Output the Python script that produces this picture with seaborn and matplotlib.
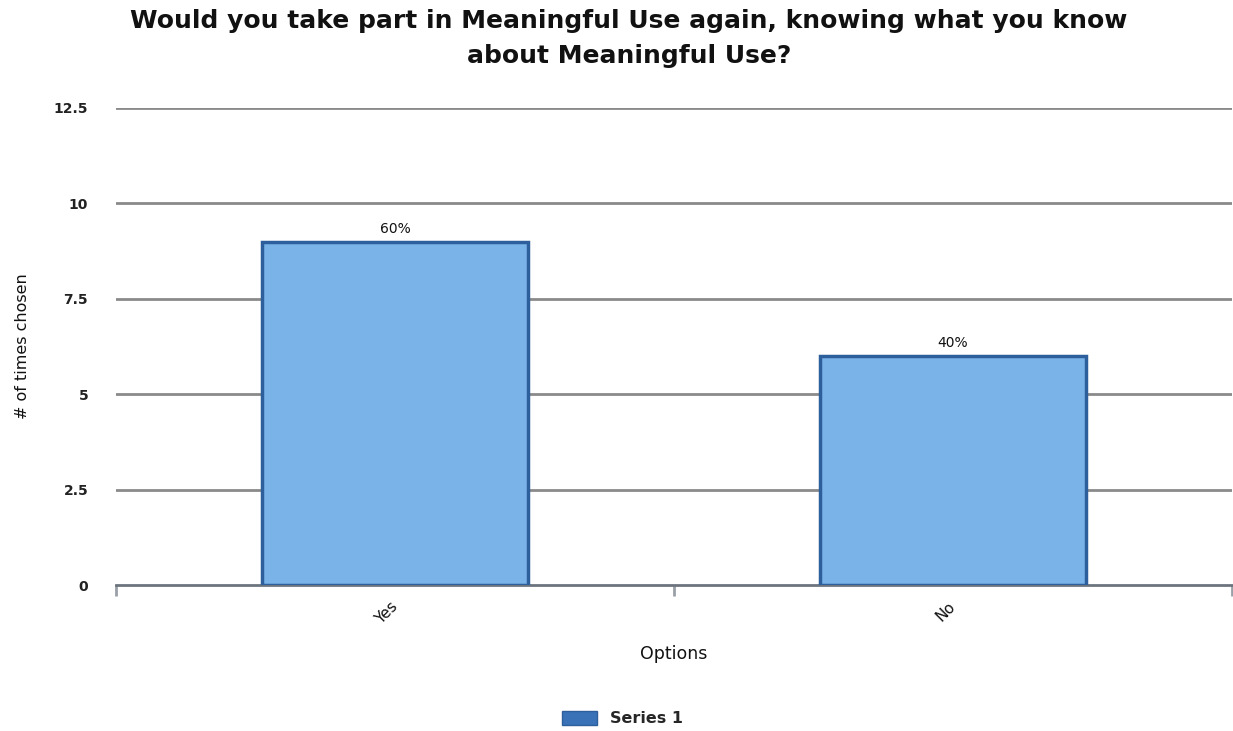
import matplotlib
matplotlib.use("Agg")
import matplotlib.pyplot as plt
import seaborn as sns
import pandas as pd
from matplotlib.patches import Patch

# Survey responses
options = ["Yes", "No"]
counts = [9, 6]
series_name = "Series 1"
y_ticks = [0, 2.5, 5, 7.5, 10, 12.5]
y_tick_labels = ["0", "2.5", "5", "7.5", "10", "12.5"]

df = pd.DataFrame({"Options": options, "count": counts})
total = sum(counts)

sns.set_theme(style="white")
plt.rcParams["font.family"] = ["DejaVu Sans"]

fig = plt.figure(figsize=(12.33, 7.31), dpi=100)
ax = fig.add_axes([0.0941, 0.1997, 0.9051, 0.6526])

bar_fill = "#7ab3e8"
bar_edge = "#2c5f9c"

sns.barplot(data=df, x="Options", y="count", color=bar_fill, width=0.477,
            edgecolor=bar_edge, linewidth=2.5, saturation=1, ax=ax, zorder=3)

# Horizontal grid lines
for t in y_ticks[1:]:
    ax.axhline(t, color="#8a8a8a", lw=2, zorder=1)

ax.set_ylim(0, 12.5)
ax.set_xlim(-0.5, len(options) - 0.5)
ax.set_yticks(y_ticks)
ax.set_yticklabels(y_tick_labels, fontsize=10, fontweight="bold", color="#222222")
ax.tick_params(axis="y", length=0, pad=20)

# Category boundary ticks below the axis
ax.set_xticks(range(len(options)))
ax.set_xticklabels(options, rotation=45, fontsize=11, ha="right", va="center",
                   rotation_mode="anchor", color="#111111")
ax.set_xticks([i - 0.5 for i in range(len(options) + 1)], minor=True)
ax.tick_params(axis="x", which="minor", bottom=True, length=8, width=2, color="#9aa0a8", direction="out")
ax.tick_params(axis="x", which="major", bottom=False, length=0, pad=14)

for s in ["top", "right", "left"]:
    ax.spines[s].set_visible(False)
ax.spines["bottom"].set_color("#6c747e")
ax.spines["bottom"].set_linewidth(2)

ax.set_xlabel("Options", fontsize=12.5, color="#111111")
ax.xaxis.set_label_coords(0.5, -0.125)
ax.set_ylabel("# of times chosen", fontsize=11.5, color="#111111")
ax.yaxis.set_label_coords(-0.077, 0.5)

# Percent labels above bars
for container in ax.containers:
    labels = [f"{v / total * 100:.0f}%" for v in counts]
    ax.bar_label(container, labels=labels, padding=4, fontsize=10, color="#111111")

fig.suptitle("Would you take part in Meaningful Use again, knowing what you know\nabout Meaningful Use?",
             x=0.51, y=0.988, fontsize=18, fontweight="bold", color="#111111", linespacing=1.6)

handle = Patch(facecolor="#3a72b8", edgecolor="#2c5f9c", label=series_name)
fig.legend(handles=[handle], loc="center", bbox_to_anchor=(0.505, 0.017),
           frameon=False, prop={"weight": "bold", "size": 11.5},
           handlelength=2.2, handleheight=1.0)

fig.savefig("out.png", dpi=100)
